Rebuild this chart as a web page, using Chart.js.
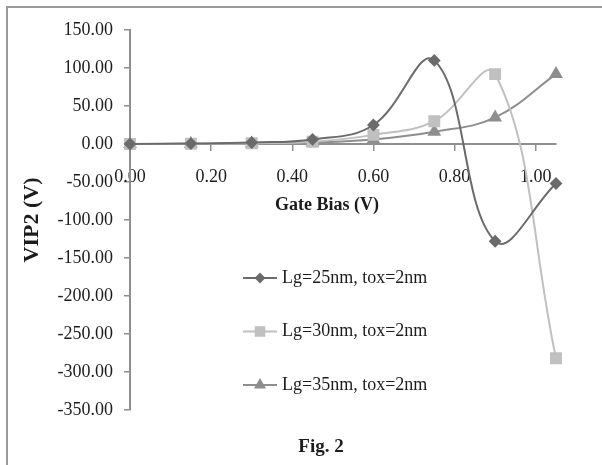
<!DOCTYPE html>
<html>
<head>
<meta charset="utf-8">
<script src="https://cdn.jsdelivr.net/npm/chart.js@4/dist/chart.umd.min.js"></script>
<style>
  html, body { margin: 0; padding: 0; background: #fff; }
  #marco {
    position: absolute; left: 6px; top: 6px; width: 700px; height: 600px;
    border-left: 2px solid #9a9a9a; border-top: 2px solid #9a9a9a;
  }
  #caja { position: absolute; left: 0; top: 0; width: 602px; height: 465px; }
</style>
</head>
<body>
<div id="marco"></div>
<div id="caja"><canvas id="graficoVIP2" width="602" height="465"></canvas></div>
<script>
// Gate bias (V) y VIP2 (V) para cada longitud de compuerta
const gateBias = [0, 0.15, 0.3, 0.45, 0.6, 0.75, 0.9, 1.05];
const lg25 = [0, 0.5, 2, 6, 25, 110, -128, -52];
const lg30 = [0, 0.3, 1, 3, 12, 30, 92, -282];
const lg35 = [0, 0.2, 0.8, 2, 6, 16, 35, 92];
const etiquetas = ["Lg=25nm, tox=2nm", "Lg=30nm, tox=2nm", "Lg=35nm, tox=2nm"];

const fuente = "'Liberation Serif', 'Times New Roman', serif";
const colorTexto = "#1c1c1c";
const colorEje = "#8f8f8f";

const serie = (valores, etiqueta, color, punto, radio) => ({
  label: etiqueta,
  data: gateBias.map((x, i) => ({ x: x, y: valores[i] })),
  borderColor: color,
  backgroundColor: color,
  borderWidth: 2,
  pointStyle: punto,
  pointRadius: radio,
  pointHoverRadius: radio,
  tension: 0.4,
  clip: false,
});

// Leyenda, titulo del eje X y pie de figura dibujados a mano
const extras = {
  id: "extras",
  afterDraw(chart) {
    const ctx = chart.ctx;
    ctx.save();
    chart.data.datasets.forEach((ds, i) => {
      const y = 278 + i * 53.5;
      ctx.strokeStyle = ds.borderColor;
      ctx.lineWidth = 2;
      ctx.beginPath();
      ctx.moveTo(243, y);
      ctx.lineTo(277, y);
      ctx.stroke();
      ctx.fillStyle = ds.backgroundColor;
      Chart.helpers.drawPoint(ctx, {
        pointStyle: ds.pointStyle, radius: ds.pointRadius - 1, borderWidth: 1,
      }, 260, y);
      ctx.fillStyle = colorTexto;
      ctx.font = "18px " + fuente;
      ctx.textAlign = "left";
      ctx.textBaseline = "middle";
      ctx.fillText(ds.label, 282, y);
    });
    ctx.fillStyle = colorTexto;
    ctx.textAlign = "center";
    ctx.textBaseline = "middle";
    ctx.font = "bold 18px " + fuente;
    ctx.fillText("Gate Bias (V)", 327, 205);
    ctx.font = "bold 19px " + fuente;
    ctx.fillText("Fig. 2", 321, 447);
    ctx.restore();
  },
};

new Chart(document.getElementById("graficoVIP2"), {
  type: "line",
  data: {
    datasets: [
      serie(lg25, etiquetas[0], "#6b6b6b", "rectRot", 5),
      serie(lg30, etiquetas[1], "#c0c0c0", "rect", 7),
      serie(lg35, etiquetas[2], "#8e8e8e", "triangle", 6),
    ],
  },
  options: {
    responsive: false,
    animation: false,
    layout: { padding: { left: 14, top: 30, right: 46, bottom: 55 } },
    plugins: {
      legend: { display: false },
      tooltip: { enabled: false },
    },
    scales: {
      x: {
        type: "linear",
        position: { y: 0 },
        min: 0,
        max: 1.05,
        border: { display: true, color: colorEje, width: 2 },
        grid: { drawOnChartArea: false, color: colorEje, lineWidth: 1.5, tickLength: 6 },
        ticks: {
          stepSize: 0.2,
          includeBounds: false,
          padding: 16,
          color: colorTexto,
          font: { family: fuente, size: 18 },
          callback: (v) => v.toFixed(2),
        },
      },
      y: {
        min: -350,
        max: 150,
        afterFit: (escala) => { escala.width = 116; },
        border: { display: true, color: colorEje, width: 2 },
        grid: { drawOnChartArea: false, color: colorEje, lineWidth: 1.5, tickLength: 6 },
        ticks: {
          stepSize: 50,
          padding: 11,
          color: colorTexto,
          font: { family: fuente, size: 18 },
          callback: (v) => v.toFixed(2),
        },
        title: {
          display: true,
          text: "VIP2 (V)",
          color: colorTexto,
          font: { family: fuente, size: 22, weight: "bold" },
          padding: { top: 5, bottom: 0 },
        },
      },
    },
  },
  plugins: [extras],
});
</script>
</body>
</html>
